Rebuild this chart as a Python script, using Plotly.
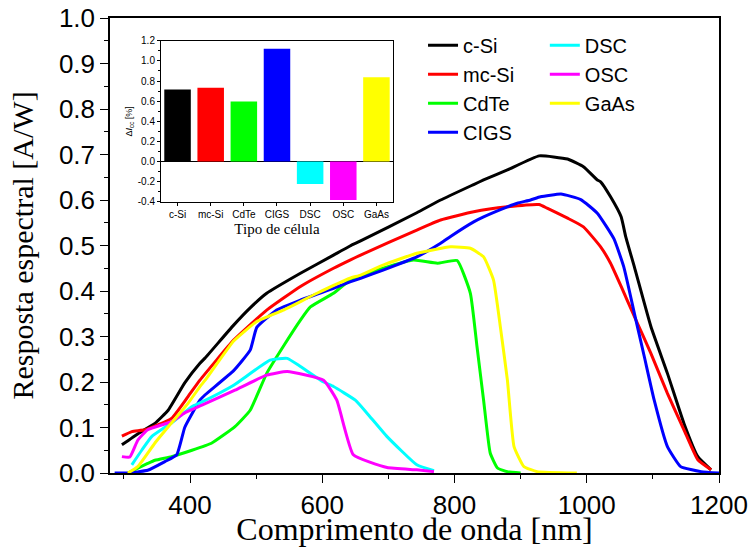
import plotly.graph_objects as go

# ---------------- data ----------------
wl_csi = [297, 322, 347, 367, 392, 415, 423, 466, 491, 516, 567, 617, 642, 658, 743, 779, 829, 844, 880,
          928, 971, 995, 1016, 1021, 1036, 1052, 1059, 1072, 1097, 1122, 1147, 1168, 1188]
rs_csi = [0.062, 0.087, 0.109, 0.138, 0.198, 0.241, 0.253, 0.325, 0.363, 0.395, 0.439, 0.479, 0.499, 0.51,
          0.572, 0.60, 0.634, 0.644, 0.666, 0.697, 0.69, 0.673, 0.644, 0.64, 0.607, 0.563, 0.519, 0.453,
          0.322, 0.219, 0.109, 0.036, 0.007]

wl_mcsi = [297, 312, 332, 372, 397, 415, 466, 516, 567, 617, 642, 658, 743, 779, 829, 880, 928, 940,
           971, 995, 1021, 1036, 1052, 1072, 1097, 1122, 1147, 1168, 1188]
rs_mcsi = [0.081, 0.091, 0.095, 0.12, 0.168, 0.204, 0.292, 0.358, 0.41, 0.45, 0.468, 0.479, 0.534,
           0.556, 0.574, 0.585, 0.59, 0.582, 0.56, 0.541, 0.497, 0.461, 0.41, 0.344, 0.263, 0.175, 0.095,
           0.029, 0.007]

wl_cdte = [306, 336, 347, 372, 403, 433, 468, 491, 516, 541, 567, 582, 617, 642, 692, 738, 774, 804, 824,
           834, 844, 854, 865, 880, 900]
rs_cdte = [0.0, 0.021, 0.028, 0.036, 0.05, 0.066, 0.102, 0.138, 0.219, 0.278, 0.336, 0.365, 0.395, 0.424,
           0.45, 0.468, 0.461, 0.467, 0.395, 0.278, 0.16, 0.044, 0.011, 0.003, 0.0]

wl_cigs = [286, 306, 336, 362, 380, 392, 403, 415, 423, 466, 491, 501, 531, 567, 617, 642, 658, 692, 743,
           779, 794, 829, 844, 880, 895, 915, 930, 961, 991, 1016, 1041, 1056, 1072, 1087, 1102, 1122,
           1142, 1173, 1200]
rs_cigs = [0.0, 0.0, 0.006, 0.025, 0.04, 0.10, 0.13, 0.16, 0.172, 0.225, 0.27, 0.32, 0.358, 0.38, 0.406,
           0.42, 0.428, 0.446, 0.475, 0.505, 0.52, 0.552, 0.563, 0.585, 0.593, 0.60, 0.607, 0.613, 0.601,
           0.571, 0.515, 0.453, 0.351, 0.256, 0.16, 0.058, 0.014, 0.003, 0.0]

wl_dsc = [312, 327, 342, 372, 403, 415, 466, 521, 547, 567, 602, 617, 650, 668, 698, 743, 769]
rs_dsc = [0.018, 0.05, 0.08, 0.11, 0.146, 0.154, 0.193, 0.248, 0.252, 0.234, 0.20, 0.19, 0.16, 0.131,
          0.08, 0.018, 0.005]

wl_osc = [297, 309, 321, 336, 372, 392, 418, 468, 516, 547, 602, 622, 647, 698, 743, 769]
rs_osc = [0.036, 0.035, 0.072, 0.095, 0.113, 0.132, 0.149, 0.182, 0.215, 0.223, 0.204, 0.16, 0.04,
          0.012, 0.007, 0.003]

wl_gaas = [306, 321, 347, 372, 397, 415, 423, 466, 501, 541, 592, 642, 658, 692, 743, 794, 824, 844, 859,
           870, 880, 890, 905, 925, 985]
rs_gaas = [0.0, 0.014, 0.066, 0.11, 0.153, 0.19, 0.204, 0.29, 0.333, 0.358, 0.395, 0.428, 0.435, 0.457,
           0.483, 0.497, 0.494, 0.475, 0.424, 0.314, 0.204, 0.058, 0.014, 0.003, 0.0]

cells = ["c-Si", "mc-Si", "CdTe", "CIGS", "DSC", "OSC", "GaAs"]
delta_icc = [0.716, 0.732, 0.596, 1.12, -0.222, -0.381, 0.838]
inset_yticks = [-0.4, -0.2, 0.0, 0.2, 0.4, 0.6, 0.8, 1.0, 1.2]
inset_yticktext = ["-0.4", "-0.2", "0.0", "0.2", "0.4", "0.6", "0.8", "1.0", "1.2"]

colors = ["#000000", "#ff0000", "#00ff00", "#0000ff", "#00ffff", "#ff00ff", "#ffff00"]

series = [
    ("c-Si", wl_csi, rs_csi, "legend"),
    ("mc-Si", wl_mcsi, rs_mcsi, "legend"),
    ("CdTe", wl_cdte, rs_cdte, "legend"),
    ("CIGS", wl_cigs, rs_cigs, "legend"),
    ("DSC", wl_dsc, rs_dsc, "legend2"),
    ("OSC", wl_osc, rs_osc, "legend2"),
    ("GaAs", wl_gaas, rs_gaas, "legend2"),
]

SANS = "Liberation Sans"
SERIF = "Liberation Serif"
XR = [279, 1200]
YR = [0, 1.0]

fig = go.Figure()
for (name, x, y, lg), c in zip(series, colors):
    fig.add_trace(go.Scatter(x=x, y=y, mode="lines", name=name, legend=lg,
                             line=dict(color=c, width=3, shape="spline", smoothing=0.4),
                             xaxis="x", yaxis="y"))

fig.add_trace(go.Bar(x=cells, y=delta_icc, marker=dict(color=colors, line=dict(width=0)),
                     width=0.8, showlegend=False, xaxis="x3", yaxis="y3"))

fig.update_layout(
    width=752, height=547,
    margin=dict(l=110, r=33, t=18, b=74, autoexpand=False),
    paper_bgcolor="white", plot_bgcolor="white",
    font=dict(family=SANS, color="black"),
    xaxis=dict(range=XR, domain=[0, 1], anchor="y", automargin=False, showline=True, linecolor="black",
               linewidth=1.5, mirror=True, showgrid=False, zeroline=False, ticks="outside", ticklen=8,
               tickwidth=1.2, tickcolor="black", tick0=0, dtick=200, ticklabeloverflow="allow",
               minor=dict(dtick=100, ticks="outside", ticklen=4, tickcolor="black", showgrid=False),
               tickfont=dict(family=SANS, size=26),
               title=dict(text="Comprimento de onda [nm]", font=dict(family=SERIF, size=32), standoff=5)),
    yaxis=dict(range=YR, domain=[0, 1], anchor="x", automargin=False, showline=True, linecolor="black",
               linewidth=1.5, mirror=True, showgrid=False, zeroline=False, ticks="outside", ticklen=8,
               tickwidth=1.2, tickcolor="black", tick0=0, dtick=0.1, tickformat=".1f",
               ticklabeloverflow="allow",
               minor=dict(dtick=0.05, ticks="outside", ticklen=4, tickcolor="black", showgrid=False),
               tickfont=dict(family=SANS, size=26),
               title=dict(text="Resposta espectral [A/W]", font=dict(family=SERIF, size=30), standoff=16)),
    xaxis2=dict(range=XR, overlaying="x", side="top", anchor="y", automargin=False, showticklabels=False,
                showgrid=False, zeroline=False, showline=False, ticks="inside", ticklen=8, tickwidth=1.2,
                tickcolor="black", tick0=0, dtick=200,
                minor=dict(dtick=100, ticks="inside", ticklen=4, tickcolor="black", showgrid=False)),
    yaxis2=dict(range=YR, overlaying="y", side="right", anchor="x", automargin=False, showticklabels=False,
                showgrid=False, zeroline=False, showline=False, ticks="inside", ticklen=8, tickwidth=1.2,
                tickcolor="black", tick0=0, dtick=0.1,
                minor=dict(dtick=0.05, ticks="inside", ticklen=4, tickcolor="black", showgrid=False)),
    xaxis3=dict(domain=[0.0837, 0.4647], anchor="y3", automargin=False, range=[-0.5, 6.5], type="category",
                showline=True, linecolor="black", linewidth=1, mirror=True, showgrid=False,
                ticks="outside", ticklen=3, tickcolor="black", tickfont=dict(family=SANS, size=10),
                title=dict(text="Tipo de célula", font=dict(family=SERIF, size=15), standoff=4)),
    yaxis3=dict(domain=[0.596, 0.950], anchor="x3", automargin=False, range=[-0.4, 1.2], showline=True,
                linecolor="black", linewidth=1, mirror=True, showgrid=False, zeroline=True,
                zerolinecolor="black", zerolinewidth=1, ticks="outside", ticklen=3, tickcolor="black",
                tickvals=inset_yticks, ticktext=inset_yticktext, ticklabeloverflow="allow",
                minor=dict(dtick=0.1, ticks="outside", ticklen=2, tickcolor="black", showgrid=False),
                tickfont=dict(family=SANS, size=10),
                title=dict(text="Δ<i>I</i><sub>cc</sub> [%]", font=dict(family=SANS, size=9), standoff=3)),
    bargap=0.2,
    legend=dict(x=0.514, y=0.983, xanchor="left", yanchor="top", bgcolor="rgba(0,0,0,0)",
                font=dict(family=SANS, size=20), tracegroupgap=0, itemwidth=30),
    legend2=dict(x=0.714, y=0.983, xanchor="left", yanchor="top", bgcolor="rgba(0,0,0,0)",
                 font=dict(family=SANS, size=20), tracegroupgap=0, itemwidth=30),
)

fig.write_html("out.html", config={"displayModeBar": False},
               post_script="document.body.style.margin='0';document.body.style.overflow='hidden';")
